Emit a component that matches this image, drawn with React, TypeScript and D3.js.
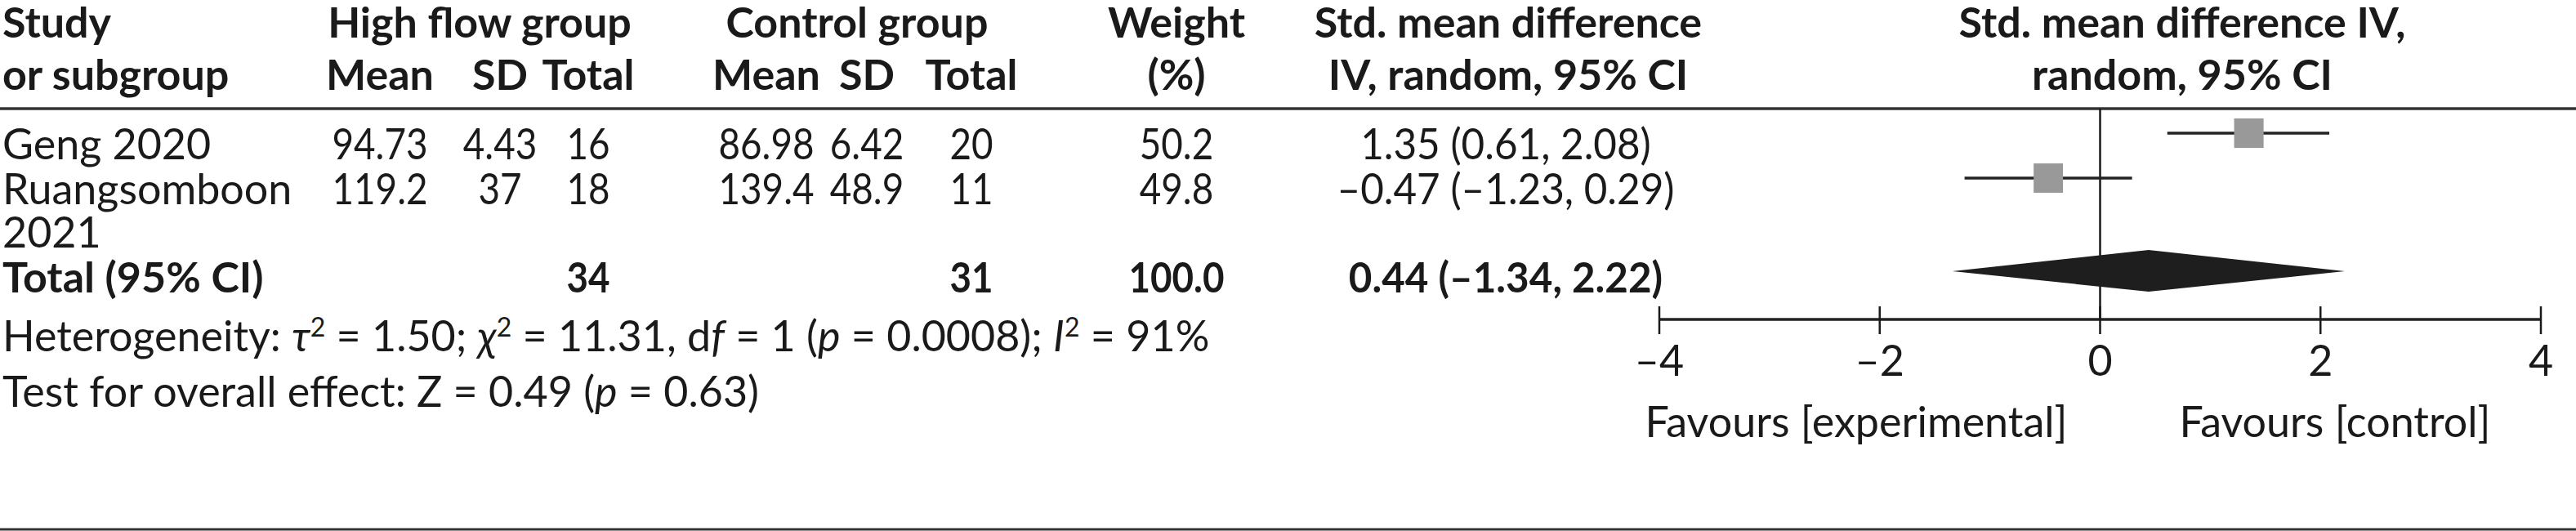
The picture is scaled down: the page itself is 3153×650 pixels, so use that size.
import React from "react";
import * as d3 from "d3";

const studies = [["Geng 2020"], ["Ruangsomboon", "2021"]];
const hfMean = [94.73, 119.2];
const hfSD = [4.43, 37];
const hfTotal = [16, 18];
const ctlMean = [86.98, 139.4];
const ctlSD = [6.42, 48.9];
const ctlTotal = [20, 11];
const weights = [50.2, 49.8];
const smd = [1.35, -0.47];
const ciLow = [0.61, -1.23];
const ciHigh = [2.08, 0.29];
const totalHf = 34;
const totalCtl = 31;
const totalWeight = 100.0;
const totalSmd = 0.44;
const totalLow = -1.34;
const totalHigh = 2.22;
const ticks = [-4, -2, 0, 2, 4];

const W = 3153;
const H = 650;
const FONT = "Lato, 'Open Sans', sans-serif";
const FS = 52;
const INK = "#1a1a1a";
const NUM_SX = 0.88;

const fmt = (v: number, d: number) => (v < 0 ? "–" : "") + Math.abs(v).toFixed(d);
const ciText = (m: number, l: number, h: number) => `${fmt(m, 2)} (${fmt(l, 2)}, ${fmt(h, 2)})`;

const T = ({ x, y, sx, children, ...rest }: any) => {
  if (sx && sx !== 1) {
    return (
      <text transform={`translate(${x},${y}) scale(${sx},1)`} fontFamily={FONT} fontSize={FS} fill={INK} {...rest}>
        {children}
      </text>
    );
  }
  return (
    <text x={x} y={y} fontFamily={FONT} fontSize={FS} fill={INK} {...rest}>
      {children}
    </text>
  );
};

export default function App() {
  const x = d3.scaleLinear().domain([-4, 4]).range([2031, 3110]);
  const rowBase = [195, 250];
  const totalBase = 358;
  const axisY = 391;
  const sq = d3.scaleSqrt().domain([0, 50]).range([0, 36]);

  const col = { mean1: 465, sd1: 612, tot1: 720, mean2: 938, sd2: 1061, tot2: 1189, weight: 1440, ci: 1843 };

  const diamond = [
    [x(totalLow), totalBase - 26],
    [x(totalSmd), totalBase - 52],
    [x(totalHigh), totalBase - 26],
    [x(totalSmd), totalBase - 1],
  ];

  return (
    <svg width={W} height={H} style={{ position: "absolute", left: 0, top: 0, background: "#fff" }}>
      <rect x={0} y={0} width={W} height={H} fill="#fff" />
      {/* header */}
      <g fontWeight={700}>
        <T x={3} y={46}>Study</T>
        <T x={3} y={110}>or subgroup</T>
        <T x={587} y={46} textAnchor="middle">High flow group</T>
        <T x={1049} y={46} textAnchor="middle">Control group</T>
        <T x={col.mean1} y={110} textAnchor="middle">Mean</T>
        <T x={col.sd1} y={110} textAnchor="middle">SD</T>
        <T x={col.tot1} y={110} textAnchor="middle">Total</T>
        <T x={col.mean2} y={110} textAnchor="middle">Mean</T>
        <T x={col.sd2} y={110} textAnchor="middle">SD</T>
        <T x={col.tot2} y={110} textAnchor="middle">Total</T>
        <T x={col.weight} y={46} textAnchor="middle">Weight</T>
        <T x={col.weight} y={110} textAnchor="middle">(%)</T>
        <T x={1846} y={46} textAnchor="middle">Std. mean difference</T>
        <T x={1846} y={110} textAnchor="middle">IV, random, 95% CI</T>
        <T x={2671} y={46} textAnchor="middle">Std. mean difference IV,</T>
        <T x={2671} y={110} textAnchor="middle">random, 95% CI</T>
      </g>
      <line x1={0} x2={W} y1={133} y2={133} stroke="#333" strokeWidth={3.5} />

      {/* zero line */}
      <line x1={x(0)} x2={x(0)} y1={133} y2={axisY} stroke={INK} strokeWidth={2.5} />

      {/* study rows */}
      <g fontWeight={400}>
        {studies.map((s, i) => (
          <g key={i}>
            {s.map((line, j) => (
              <T key={j} x={3} y={rowBase[i] + j * 53}>{line}</T>
            ))}
            <T x={col.mean1} y={rowBase[i]} sx={NUM_SX} textAnchor="middle">{String(hfMean[i])}</T>
            <T x={col.sd1} y={rowBase[i]} sx={NUM_SX} textAnchor="middle">{String(hfSD[i])}</T>
            <T x={col.tot1} y={rowBase[i]} sx={NUM_SX} textAnchor="middle">{String(hfTotal[i])}</T>
            <T x={col.mean2} y={rowBase[i]} sx={NUM_SX} textAnchor="middle">{String(ctlMean[i])}</T>
            <T x={col.sd2} y={rowBase[i]} sx={NUM_SX} textAnchor="middle">{String(ctlSD[i])}</T>
            <T x={col.tot2} y={rowBase[i]} sx={NUM_SX} textAnchor="middle">{String(ctlTotal[i])}</T>
            <T x={col.weight} y={rowBase[i]} sx={NUM_SX} textAnchor="middle">{weights[i].toFixed(1)}</T>
            <T x={col.ci} y={rowBase[i]} sx={0.95} textAnchor="middle">{ciText(smd[i], ciLow[i], ciHigh[i])}</T>
          </g>
        ))}
      </g>
      {studies.map((_, i) => {
        const cy = rowBase[i] - 32;
        const s = sq(weights[i]);
        return (
          <g key={"m" + i}>
            <line x1={x(ciLow[i])} x2={x(ciHigh[i])} y1={cy} y2={cy} stroke="#222" strokeWidth={3.5} />
            <rect x={x(smd[i]) - s / 2} y={cy - s / 2} width={s} height={s} fill="#999" />
          </g>
        );
      })}

      {/* total */}
      <g fontWeight={700}>
        <T x={3} y={totalBase}>Total (95% CI)</T>
        <T x={col.tot1} y={totalBase} sx={NUM_SX} textAnchor="middle">{String(totalHf)}</T>
        <T x={col.tot2} y={totalBase} sx={NUM_SX} textAnchor="middle">{String(totalCtl)}</T>
        <T x={col.weight} y={totalBase} sx={NUM_SX} textAnchor="middle">{totalWeight.toFixed(1)}</T>
        <T x={col.ci} y={totalBase} sx={0.95} textAnchor="middle">{ciText(totalSmd, totalLow, totalHigh)}</T>
      </g>
      <polygon points={diamond.map((p) => p.join(",")).join(" ")} fill="#1e1e1e" />

      {/* heterogeneity */}
      <g fontWeight={400}>
        <T x={3} y={430}>
          Heterogeneity: <tspan fontStyle="italic">τ</tspan>
          <tspan dy={-18} fontSize={32}>2</tspan>
          <tspan dy={18}> = 1.50; </tspan>
          <tspan fontStyle="italic">χ</tspan>
          <tspan dy={-18} fontSize={32}>2</tspan>
          <tspan dy={18}> = 11.31, d</tspan>
          <tspan fontStyle="italic">f</tspan>
          <tspan> = 1 (</tspan>
          <tspan fontStyle="italic">p</tspan>
          <tspan> = 0.0008); </tspan>
          <tspan fontStyle="italic">I</tspan>
          <tspan dy={-18} fontSize={32}>2</tspan>
          <tspan dy={18}> = 91%</tspan>
        </T>
        <T x={3} y={498}>
          Test for overall effect: Z = 0.49 (<tspan fontStyle="italic">p</tspan> = 0.63)
        </T>
      </g>

      {/* axis */}
      <line x1={x(-4)} x2={x(4)} y1={axisY} y2={axisY} stroke="#222" strokeWidth={3.5} />
      {ticks.map((t) => (
        <g key={t}>
          <line x1={x(t)} x2={x(t)} y1={axisY - 16} y2={axisY + 18} stroke={INK} strokeWidth={2.5} />
          <T x={x(t)} y={460} textAnchor="middle">{fmt(t, 0)}</T>
        </g>
      ))}
      <g fontWeight={400}>
        <T x={2272} y={535} textAnchor="middle">Favours [experimental]</T>
        <T x={2858} y={535} textAnchor="middle">Favours [control]</T>
      </g>

      <line x1={0} x2={W} y1={648} y2={648} stroke="#333" strokeWidth={3} />
    </svg>
  );
}
